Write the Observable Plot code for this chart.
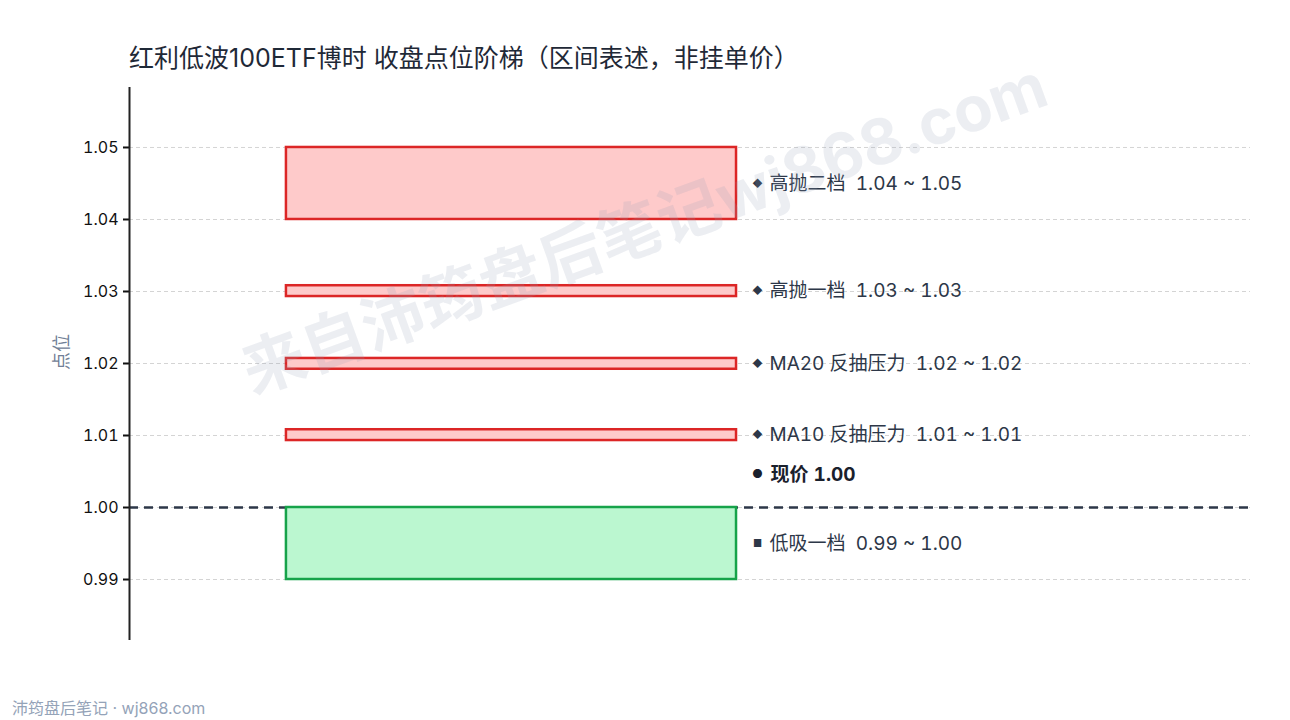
<!DOCTYPE html>
<html>
<head>
<meta charset="utf-8">
<script src="https://cdn.jsdelivr.net/npm/d3@7"></script>
<script src="https://cdn.jsdelivr.net/npm/@observablehq/plot@0.6"></script>
<style>
  html, body { margin: 0; padding: 0; background: #fff; }
  body { width: 1290px; height: 720px; position: relative; overflow: hidden;
         font-family: Inter, "Noto Sans CJK SC", sans-serif; }
  #title { position: absolute; left: 129px; top: 38px; font-size: 25px; color: #1f2937; white-space: nowrap; }
  #chart { position: absolute; left: 0; top: 80px; }
  #footer { position: absolute; left: 12px; top: 695px; font-size: 16px; color: #94a3b8; white-space: nowrap; }
</style>
</head>
<body>
<div id="title">红利低波100ETF博时 收盘点位阶梯（区间表述，非挂单价）</div>
<div id="chart"></div>
<div id="footer">沛筠盘后笔记 · wj868.com</div>
<script>
// ---- data ----
const zoneNames = ["高抛二档", "高抛一档", "MA20 反抽压力", "MA10 反抽压力", "低吸一档"];
const zoneLow   = [1.04, 1.0293, 1.0192, 1.0093, 0.99];
const zoneHigh  = [1.05, 1.0308, 1.0207, 1.0108, 1.00];
const zoneKind  = ["sell", "sell", "sell", "sell", "buy"];
const currentPrice = 1.00;
const currentLabel = "现价";
const yTicks = [0.99, 1.00, 1.01, 1.02, 1.03, 1.04, 1.05];
const yLabel = "点位";
const watermark = "来自沛筠盘后笔记wj868.com";

const zones = zoneNames.map((name, i) => ({name, lo: zoneLow[i], hi: zoneHigh[i], kind: zoneKind[i]}));

const font = 'Inter, "Noto Sans CJK SC", sans-serif';
const boxLeft = 0.14, boxRight = 0.5415;
const fills = {sell: "#fecaca", buy: "#bbf7d0"};
const strokes = {sell: "#dc2626", buy: "#16a34a"};
const sp = "\u00a0\u00a0";

const chart = Plot.plot({
  width: 1290,
  height: 600,
  marginLeft: 129,
  marginRight: 40,
  marginTop: 7,
  marginBottom: 40,
  style: {fontFamily: font, fontSize: "16px", background: "transparent", overflow: "visible"},
  x: {domain: [0, 1], axis: null},
  y: {domain: [0.98153, 1.05833], axis: null},
  marks: [
    Plot.gridY(yTicks, {stroke: "#d4d4d4", strokeOpacity: 1, strokeDasharray: "4,3"}),
    Plot.ruleY([currentPrice], {stroke: "#2d3748", strokeWidth: 2.5, strokeDasharray: "9,6"}),
    Plot.rect(zones, {
      x1: () => boxLeft, x2: () => boxRight, y1: "lo", y2: "hi",
      fill: d => fills[d.kind], stroke: d => strokes[d.kind], strokeWidth: 2.5
    }),
    Plot.axisY(yTicks, {
      tickFormat: d => d.toFixed(2), tickSize: 6, tickPadding: 5, fontSize: 16,
      color: "#111", strokeWidth: 2, label: null
    }),
    Plot.ruleX([0], {stroke: "#222", strokeWidth: 2}),
    Plot.text([yLabel], {frameAnchor: "left", dx: -67, dy: 6, rotate: -90, fontSize: 18, fill: "#718096"}),
    Plot.text(zones, {
      x: () => boxRight, y: d => (d.lo + d.hi) / 2, dx: 21,
      text: d => d.kind === "sell" ? "◆" : "■", fontSize: 10, fill: "#2d3748", textAnchor: "middle"
    }),
    Plot.text(zones, {
      x: () => boxRight, y: d => (d.lo + d.hi) / 2, dx: 33, textAnchor: "start",
      text: d => `${d.name}${sp}${d.lo.toFixed(2)} ~ ${d.hi.toFixed(2)}`, fontSize: 19,
      fontVariant: "tabular-nums", fill: "#2d3748"
    }),
    Plot.text([currentPrice], {
      x: () => boxRight, y: d => d, dx: 21, dy: -33, text: () => "●",
      fontSize: 12, fill: "#1a202c", textAnchor: "middle"
    }),
    Plot.text([currentPrice], {
      x: () => boxRight, y: d => d, dx: 34, dy: -33, textAnchor: "start",
      text: d => `${currentLabel} ${d.toFixed(2)}`, fontSize: 19, fontWeight: "bold",
      fontVariant: "tabular-nums", fill: "#1a202c"
    }),
    Plot.text([watermark], {
      frameAnchor: "middle", dx: -45, dy: -134, rotate: -20, fontSize: 63, fontWeight: "bold",
      fill: "#94a3b8", fillOpacity: 0.18
    })
  ]
});
document.getElementById("chart").appendChild(chart);
</script>
</body>
</html>
